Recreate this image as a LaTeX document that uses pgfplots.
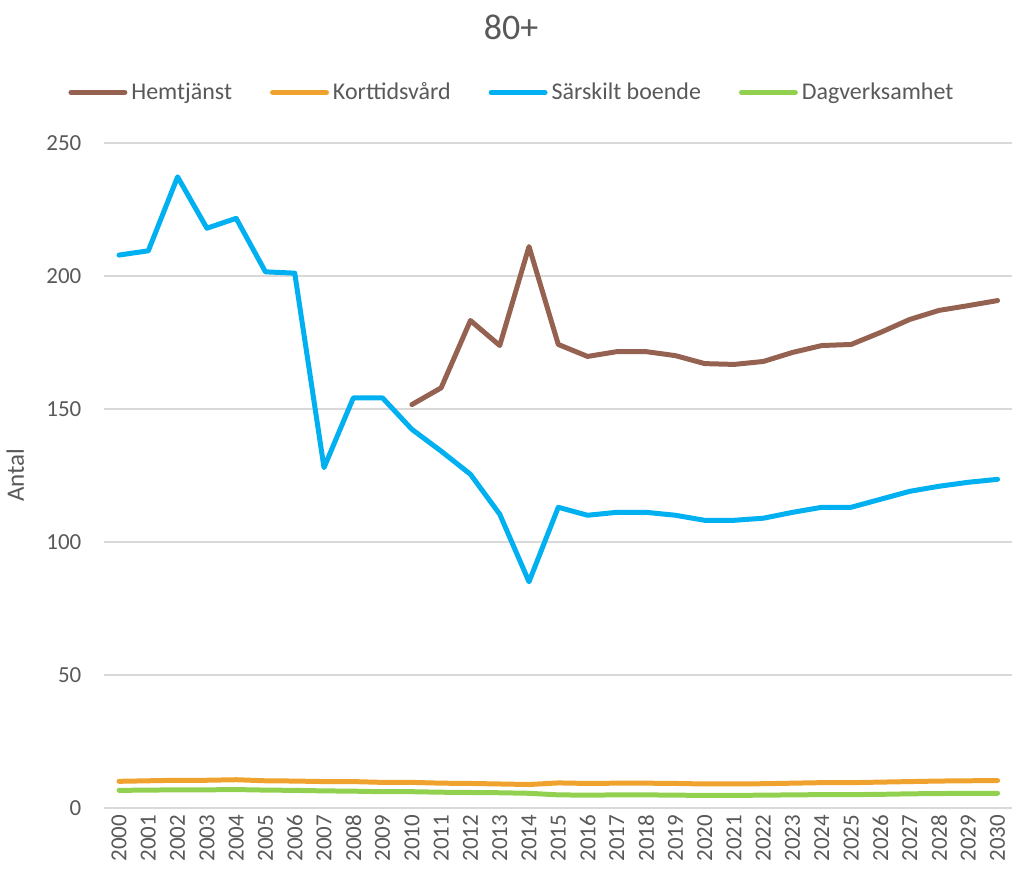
\documentclass[border=0pt]{standalone}
\usepackage{pgfplots}
\pgfplotsset{compat=1.18}
\usepackage{fontspec}
\setmainfont{Carlito}

\definecolor{txt}{HTML}{595959}
\definecolor{gridc}{HTML}{D9D9D9}
\definecolor{cHem}{HTML}{956251}
\definecolor{cKort}{HTML}{F0A22E}
\definecolor{cSar}{HTML}{00B0F0}
\definecolor{cDag}{HTML}{92D050}

\begin{document}
\begin{tikzpicture}
\begin{axis}[
    scale only axis,
    width=454.5pt, height=333pt,
    xmin=1999.5, xmax=2030.5,
    ymin=0, ymax=250,
    xtick={2000,2001,...,2030},
    ytick={0,50,...,250},
    /pgf/number format/1000 sep={},
    /pgf/number format/assume math mode=true,
    xticklabel style={rotate=90, anchor=east, font=\fontsize{11.5}{12}\selectfont, text=txt},
    yticklabel style={font=\fontsize{11.5}{12}\selectfont, text=txt, xshift=-8pt},
    major tick length=0pt,
    axis line style={draw=none},
    ymajorgrids,
    grid style={gridc, line width=0.8pt},
    ylabel={Antal},
    ylabel style={at={(axis description cs:-0.098,0.5)}, anchor=center, font=\fontsize{12.5}{13}\selectfont, text=txt},
    title={80+},
    title style={at={(rel axis cs:0.448,1)}, anchor=south, yshift=42pt, font=\fontsize{18}{20}\selectfont, text=txt},
    legend columns=4,
    legend style={draw=none, fill=none, at={(rel axis cs:0.45,1)}, anchor=south, yshift=16pt,
        font=\fontsize{12}{13}\selectfont, text=txt,
        /tikz/every even column/.append style={column sep=17pt}},
    legend image code/.code={\draw[#1, line cap=round] (0pt,0pt) -- (27pt,0pt);},
    every axis plot/.append style={line width=2.5pt, line join=round, line cap=round},
    clip=false,
]
\addplot[cHem] coordinates {
(2010,151.6) (2011,157.9) (2012,183.2) (2013,173.8) (2014,211.0)
(2015,174.2) (2016,169.7) (2017,171.5) (2018,171.5) (2019,170.0)
(2020,167.0) (2021,166.7) (2022,167.8) (2023,171.2) (2024,173.8)
(2025,174.2) (2026,178.7) (2027,183.6) (2028,187.0) (2029,188.8) (2030,190.7)
};
\addplot[cKort] coordinates {
(2000,10.0) (2001,10.2) (2002,10.4) (2003,10.4) (2004,10.6)
(2005,10.2) (2006,10.1) (2007,9.9) (2008,9.9) (2009,9.6)
(2010,9.6) (2011,9.3) (2012,9.2) (2013,9.0) (2014,8.8)
(2015,9.4) (2016,9.2) (2017,9.3) (2018,9.3) (2019,9.2)
(2020,9.0) (2021,9.0) (2022,9.1) (2023,9.3) (2024,9.5)
(2025,9.5) (2026,9.7) (2027,9.9) (2028,10.1) (2029,10.2) (2030,10.3)
};
\addplot[cSar] coordinates {
(2000,207.8) (2001,209.4) (2002,237.2) (2003,217.9) (2004,221.6)
(2005,201.5) (2006,201.0) (2007,127.9) (2008,154.1) (2009,154.1)
(2010,142.3) (2011,134.1) (2012,125.4) (2013,110.4) (2014,85.0)
(2015,113.0) (2016,110.0) (2017,111.1) (2018,111.1) (2019,110.0)
(2020,108.1) (2021,108.1) (2022,108.9) (2023,111.1) (2024,113.0)
(2025,113.0) (2026,116.0) (2027,119.0) (2028,120.9) (2029,122.4) (2030,123.5)
};
\addplot[cDag] coordinates {
(2000,6.6) (2001,6.7) (2002,6.8) (2003,6.8) (2004,6.9)
(2005,6.7) (2006,6.6) (2007,6.4) (2008,6.3) (2009,6.1)
(2010,6.1) (2011,5.9) (2012,5.8) (2013,5.7) (2014,5.5)
(2015,4.9) (2016,4.8) (2017,4.9) (2018,4.9) (2019,4.8)
(2020,4.7) (2021,4.7) (2022,4.8) (2023,4.9) (2024,5.0)
(2025,5.0) (2026,5.1) (2027,5.3) (2028,5.4) (2029,5.5) (2030,5.5)
};
\legend{Hemtjänst, Korttidsvård, Särskilt boende, Dagverksamhet}
% white room above the title and below the year labels
\path (rel axis cs:0.5,1) ++(0pt,71.5pt);
\path (rel axis cs:0.5,0) ++(0pt,-32.5pt);
\end{axis}
\end{tikzpicture}
\end{document}
